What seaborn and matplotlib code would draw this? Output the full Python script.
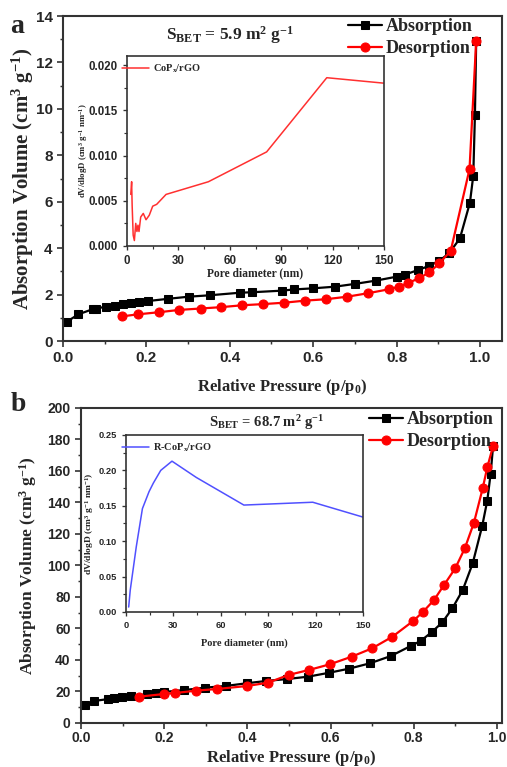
import matplotlib
matplotlib.use("Agg")
import matplotlib.pyplot as plt
import seaborn as sns
from matplotlib.ticker import MultipleLocator

# ---------------- data ----------------
# panel a : CoPx/rGO isotherm
a_ads_p = [0.009, 0.037, 0.071, 0.08, 0.103, 0.125, 0.143, 0.163, 0.183, 0.203, 0.253, 0.302,
           0.352, 0.424, 0.453, 0.526, 0.553, 0.600, 0.652, 0.700, 0.750, 0.800, 0.820, 0.852,
           0.877, 0.903, 0.926, 0.952, 0.976, 0.984, 0.988, 0.991]
a_ads_v = [0.83, 1.15, 1.37, 1.40, 1.48, 1.52, 1.58, 1.63, 1.68, 1.72, 1.82, 1.91,
           1.97, 2.08, 2.10, 2.17, 2.22, 2.27, 2.34, 2.46, 2.60, 2.77, 2.86, 3.06,
           3.23, 3.46, 3.78, 4.42, 5.96, 7.12, 9.74, 12.92]
a_des_p = [0.991, 0.975, 0.930, 0.903, 0.879, 0.853, 0.827, 0.805, 0.782, 0.732, 0.682, 0.631,
           0.581, 0.530, 0.480, 0.430, 0.380, 0.330, 0.279, 0.230, 0.180, 0.141]
a_des_v = [12.93, 7.40, 3.89, 3.35, 2.96, 2.70, 2.49, 2.34, 2.23, 2.06, 1.91, 1.80,
           1.74, 1.65, 1.59, 1.54, 1.46, 1.40, 1.34, 1.24, 1.15, 1.06]
a_pore_d = [2.2, 2.7, 3.0, 3.6, 4.3, 5.1, 5.8, 6.4, 7.0, 8.0, 9.5, 11.1, 13.0, 15.0, 17.3,
            22.8, 47.5, 81.5, 116.6, 149.7]
a_pore_v = [0.0057, 0.0071, 0.0045, 0.0012, 0.0006, 0.0025, 0.0016, 0.0023, 0.0016, 0.0032,
            0.0036, 0.0029, 0.0034, 0.0044, 0.0046, 0.0057, 0.0071, 0.0104, 0.0186, 0.0180]

# panel b : R-CoPx/rGO isotherm
b_ads_p = [0.010, 0.032, 0.066, 0.080, 0.099, 0.120, 0.158, 0.180, 0.200, 0.248, 0.298, 0.348,
           0.398, 0.446, 0.496, 0.546, 0.597, 0.645, 0.695, 0.745, 0.793, 0.817, 0.844, 0.869,
           0.893, 0.918, 0.942, 0.965, 0.977, 0.985, 0.991]
b_ads_v = [11.4, 14.0, 15.2, 15.6, 16.3, 17.1, 18.2, 19.0, 19.7, 20.9, 22.4, 23.5,
           25.2, 26.7, 27.9, 29.4, 31.9, 34.5, 37.9, 42.5, 48.9, 52.1, 57.8, 63.9,
           72.8, 84.4, 101.4, 125.3, 141.2, 158.0, 175.9]
b_des_p = [0.991, 0.977, 0.966, 0.945, 0.923, 0.900, 0.873, 0.849, 0.823, 0.799, 0.749, 0.700,
           0.651, 0.599, 0.549, 0.499, 0.450, 0.400, 0.328, 0.276, 0.226, 0.200, 0.140]
b_des_v = [175.9, 162.3, 149.0, 127.2, 110.9, 98.2, 87.6, 78.1, 70.7, 64.8, 54.8, 47.4,
           42.1, 37.3, 33.7, 30.5, 25.6, 23.5, 21.6, 20.5, 19.0, 18.4, 16.7]
b_pore_d = [1.7, 2.7, 6.5, 10.4, 14.6, 17.3, 22.0, 29.1, 44.5, 74.6, 118.2, 150.0]
b_pore_v = [0.007, 0.031, 0.092, 0.146, 0.170, 0.182, 0.200, 0.213, 0.190, 0.151, 0.155, 0.134]

# ---------------- style ----------------
sns.set_theme(style="ticks")
SERIF = ["Liberation Serif", "DejaVu Serif"]
SANS = ["Liberation Sans", "DejaVu Sans"]
plt.rcParams["font.family"] = SANS
plt.rcParams["font.weight"] = "bold"
plt.rcParams["mathtext.fontset"] = "custom"
plt.rcParams["mathtext.rm"] = "Liberation Serif:bold"
plt.rcParams["mathtext.it"] = "Liberation Serif:bold"
plt.rcParams["mathtext.bf"] = "Liberation Serif:bold"

fig = plt.figure(figsize=(5.07, 7.67), dpi=100)
fig.patch.set_facecolor("white")

def style_axes(ax, lw=1.5, fs=10.5, major=4, minor=2.5, xpad=3.5):
    for s in ax.spines.values():
        s.set_linewidth(lw)
        s.set_color("#333333")
    ax.tick_params(axis="both", which="major", direction="out", length=major, width=lw * 0.8,
                   labelsize=fs, top=False, right=False, color="#333333")
    ax.tick_params(axis="x", which="major", pad=xpad)
    ax.tick_params(axis="both", which="minor", direction="out", length=minor, width=lw * 0.7,
                   top=False, right=False, color="#333333")
    for lab in ax.get_xticklabels() + ax.get_yticklabels():
        lab.set_fontweight("bold")
        lab.set_family(SANS)
    ax.set_facecolor("white")
    ax.grid(False)

def main_panel(rect, ads_p, ads_v, des_p, des_v, xmax, ymax, ymaj, letter, sbet, sbet_xy, sbet_fs,
               ylab_x, ylab_fs, xlab_y, leg_anchor, letter_xy, tick_fs, xpad):
    ax = fig.add_axes(rect)
    sns.lineplot(x=ads_p, y=ads_v, ax=ax, color="black", marker="s", markersize=5.5,
                 markeredgecolor="black", linewidth=1.6, sort=False, label="Absorption")
    sns.lineplot(x=des_p, y=des_v, ax=ax, color="#ff0000", marker="o", markersize=6.5,
                 markeredgecolor="#ff0000", linewidth=1.6, sort=False, label="Desorption")
    ax.set_xlim(0, xmax)
    ax.set_ylim(0, ymax)
    ax.xaxis.set_major_locator(MultipleLocator(0.2))
    ax.xaxis.set_minor_locator(MultipleLocator(0.1))
    ax.yaxis.set_major_locator(MultipleLocator(ymaj))
    ax.yaxis.set_minor_locator(MultipleLocator(ymaj / 2))
    ax.set_xticks([0, 0.2, 0.4, 0.6, 0.8, 1.0])
    ax.set_xticklabels(["0.0", "0.2", "0.4", "0.6", "0.8", "1.0"])
    style_axes(ax, fs=tick_fs, xpad=xpad)
    ax.set_xlabel("Relative Pressure (p/p$_0$)", family=SERIF, fontweight="bold", fontsize=12)
    ax.set_ylabel("Absorption Volume (cm$^3$ g$^{-1}$)", family=SERIF, fontweight="bold",
                  fontsize=ylab_fs)
    ax.yaxis.set_label_coords(ylab_x, 0.5)
    ax.xaxis.set_label_coords(0.5, xlab_y)
    ax.legend(loc="upper right", bbox_to_anchor=leg_anchor, frameon=False,
              prop={"family": SERIF, "weight": "bold", "size": 13},
              handlelength=1.9, handletextpad=0.2, labelspacing=0.25, borderaxespad=0)
    ax.text(sbet_xy[0], sbet_xy[1], sbet, transform=ax.transAxes, ha="center", va="center",
            family=SERIF, fontweight="bold", fontsize=sbet_fs)
    fig.text(letter_xy[0], letter_xy[1], letter, family=SERIF, fontweight="bold", fontsize=20,
             ha="center", va="center")
    return ax

def inset(rect, d, v, color, ymax, ymaj, label, ylab_x, ylab_fs, xlab_y, xlab_fs, yfmt, tick_fs,
          leg_x):
    ax = fig.add_axes(rect)
    sns.lineplot(x=d, y=v, ax=ax, color=color, linewidth=1.1, sort=False, label=label)
    ax.set_xlim(0, 150)
    ax.set_ylim(0, ymax)
    ax.xaxis.set_major_locator(MultipleLocator(30))
    ax.xaxis.set_minor_locator(MultipleLocator(15))
    ax.yaxis.set_major_locator(MultipleLocator(ymaj))
    ax.yaxis.set_minor_locator(MultipleLocator(ymaj / 2))
    ax.yaxis.set_major_formatter(plt.FormatStrFormatter(yfmt))
    style_axes(ax, lw=1.2, fs=tick_fs, major=3, minor=2)
    ax.set_xlabel("Pore diameter (nm)", family=SERIF, fontweight="bold", fontsize=xlab_fs)
    ax.set_ylabel("dV/dlogD (cm$^3$ g$^{-1}$ nm$^{-1}$)", family=SERIF, fontweight="bold",
                  fontsize=ylab_fs)
    ax.yaxis.set_label_coords(ylab_x, 0.5)
    ax.xaxis.set_label_coords(0.5, xlab_y)
    ax.legend(loc="upper left", bbox_to_anchor=(leg_x, 1.0), frameon=False,
              prop={"family": SERIF, "weight": "bold", "size": 7.5},
              handlelength=2.6, handletextpad=0.4, borderaxespad=0.2)
    return ax

# panel a
main_panel([0.1243, 0.5554, 0.8659, 0.4237], a_ads_p, a_ads_v, a_des_p, a_des_v,
           1.053, 14, 2, "a", "S$_{\\mathregular{BET}}$ = 5.9 m$^2$ g$^{-1}$", (0.38, 0.94), 12.5,
           -0.062, 15, -0.11, (0.949, 1.015), (0.034, 0.966), 11, 3.5)
inset([0.2505, 0.6793, 0.5069, 0.2477], a_pore_d, a_pore_v, "#ff3030", 0.021, 0.005,
      "CoP$_x$/rGO", -0.145, 6.3, -0.11, 8.3, "%.3f", 8.3, -0.045)

# panel b
main_panel([0.1598, 0.0574, 0.830, 0.4107], b_ads_p, b_ads_v, b_des_p, b_des_v,
           1.012, 200, 20, "b", "S$_{\\mathregular{BET}}$ = 68.7 m$^2$ g$^{-1}$", (0.44, 0.955), 10.5,
           -0.1, 12.5, -0.078, (0.997, 1.012), (0.037, 0.473), 10, 2)
inset([0.2485, 0.2021, 0.4675, 0.2308], b_pore_d, b_pore_v, "#5050ff", 0.25, 0.05,
      "R-CoP$_x$/rGO", -0.125, 6.8, -0.15, 7.5, "%.2f", 6.7, -0.045)

fig.savefig("out.png", dpi=100, facecolor="white")
